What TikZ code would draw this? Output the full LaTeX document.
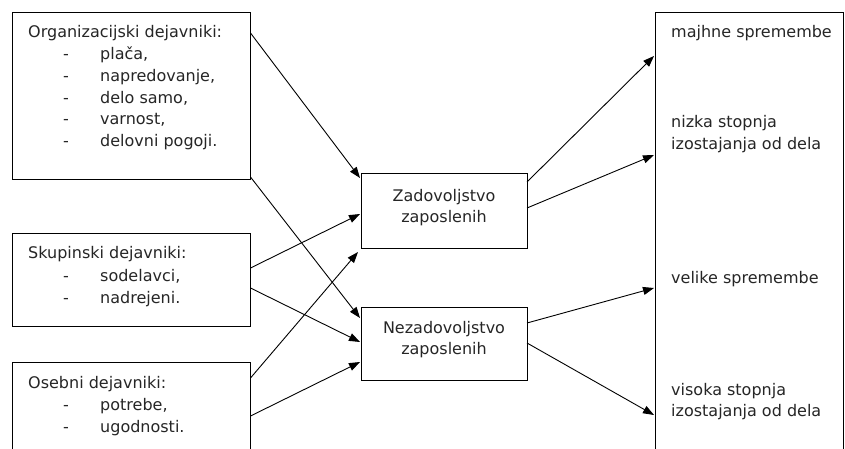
\documentclass[tikz,border=0pt]{standalone}
\usepackage{fontspec}
\setmainfont{DejaVu Sans}
\usetikzlibrary{arrows.meta}
\begin{document}
\begin{tikzpicture}[x=1pt,y=-1pt,
  box/.style={draw,line width=1pt,inner sep=0pt},
  txt/.style={anchor=base west,inner sep=0pt,text=black!85,font=\fontsize{16}{19}\selectfont},
  ctxt/.style={anchor=base,inner sep=0pt,text=black!85,font=\fontsize{16}{19}\selectfont},
  conn/.style={line width=0.9pt,-{Triangle[length=11pt,width=8pt]}}]
\clip (0,0) rectangle (845,449);
\fill[white] (0,0) rectangle (845,449);
% boxes
\draw[box] (12,13) rectangle (250,180);
\draw[box] (12,233) rectangle (250,326);
\draw[box] (12,362) -- (12,470) (250,470) -- (250,362) -- (12,362);
\draw[box] (361,174) rectangle (527,248);
\draw[box] (361,307) rectangle (527,380);
\draw[box] (655,470) -- (655,13) -- (843.5,13) -- (843.5,470);
% left texts
\node[txt] (o0) at (28,38) {Organizacijski dejavniki:};
\foreach \y/\t [count=\i] in {60/{plača,},82/{napredovanje,},103.5/{delo samo,},125/{varnost,},147/{delovni pogoji.}}{
  \node[txt] (od\i) at (63,\y) {-};
  \node[txt] (ot\i) at (100,\y) {\t};
}
\node[txt] (s0) at (28,258) {Skupinski dejavniki:};
\node[txt] (sd1) at (63,281) {-};
\node[txt] (st1) at (100,281) {sodelavci,};
\node[txt] (sd2) at (63,303) {-};
\node[txt] (st2) at (100,303) {nadrejeni.};
\node[txt] (e0) at (28,388) {Osebni dejavniki:};
\node[txt] (ed1) at (63,410) {-};
\node[txt] (et1) at (100,410) {potrebe,};
\node[txt] (ed2) at (63,432) {-};
\node[txt] (et2) at (100,432) {ugodnosti.};
% middle texts
\node[ctxt] (z1) at (444,201.5) {Zadovoljstvo};
\node[ctxt] (z2) at (444,222) {zaposlenih};
\node[ctxt] (n1) at (444,333) {Nezadovoljstvo};
\node[ctxt] (n2) at (444,354) {zaposlenih};
% right texts
\node[txt] (r1) at (671,38) {majhne spremembe};
\node[txt] (r2) at (671,128) {nizka stopnja};
\node[txt] (r3) at (671,150) {izostajanja od dela};
\node[txt] (r4) at (671,283) {velike spremembe};
\node[txt] (r5) at (671,395) {visoka stopnja};
\node[txt] (r6) at (671,416) {izostajanja od dela};
% connector endpoints
\coordinate (a1) at (250.5,33);
\coordinate (b1) at (360,178);
\coordinate (a2) at (250.5,177);
\coordinate (b2) at (360,318);
\coordinate (a3) at (250.5,268);
\coordinate (b3) at (360,214);
\coordinate (a4) at (250.5,288);
\coordinate (b4) at (360,342);
\coordinate (a5) at (250.5,378);
\coordinate (b5) at (358,252);
\coordinate (a6) at (250.5,416);
\coordinate (b6) at (360,362);
\coordinate (c1) at (527,182);
\coordinate (d1) at (654,56);
\coordinate (c2) at (527,208);
\coordinate (d2) at (654,155);
\coordinate (c3) at (527,323);
\coordinate (d3) at (654,288);
\coordinate (c4) at (527,343);
\coordinate (d4) at (654,415);
\foreach \p/\q in {a1/b1,a2/b2,a3/b3,a4/b4,a5/b5,a6/b6,c1/d1,c2/d2,c3/d3,c4/d4}
  \draw[conn] (\p) -- (\q);
\end{tikzpicture}
\end{document}
